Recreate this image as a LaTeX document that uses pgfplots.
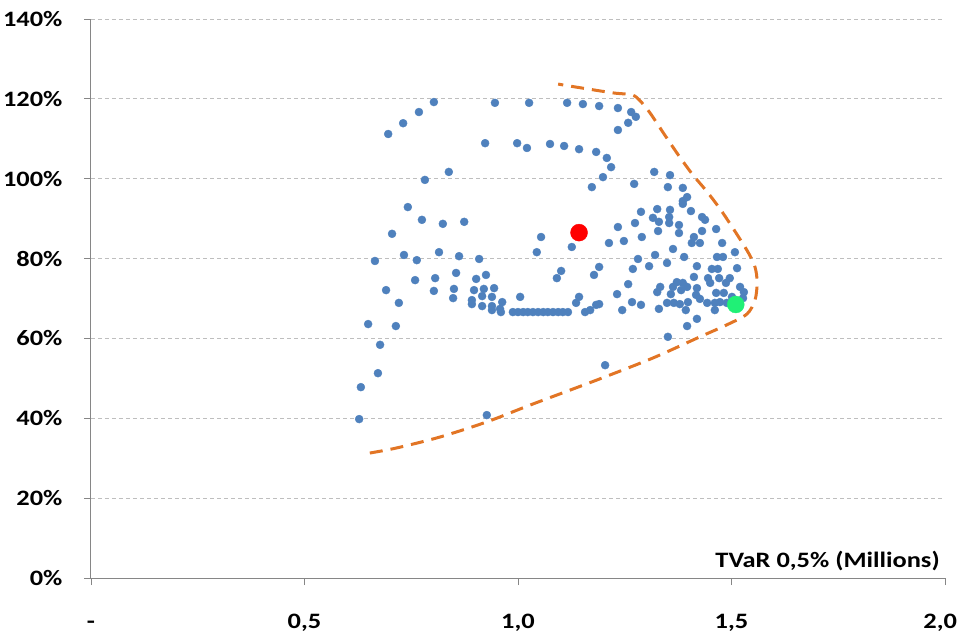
\documentclass[border=0pt]{standalone}
\usepackage{fontspec}
\setmainfont{Carlito}[FakeStretch=1.2]
\usepackage{pgfplots}
\pgfplotsset{compat=1.18}
\definecolor{ptblue}{RGB}{79,129,189}
\definecolor{orangec}{RGB}{226,117,37}
\definecolor{greenc}{RGB}{32,240,118}
\definecolor{axisgray}{RGB}{134,134,134}
\definecolor{gridgray}{RGB}{190,190,190}
\begin{document}
\begin{tikzpicture}
\begin{axis}[
  name=ax,
  scale only axis, width=854pt, height=559pt,
  xmin=0, xmax=2, ymin=0, ymax=140,
  axis lines*=left,
  axis line style={draw=axisgray, line width=1pt},
  xtick={0,0.5,1,1.5,2},
  xticklabels={{-},{0,5},{1,0},{1,5},{\hbox to 0pt{\hss 2,0\hskip -12pt\relax}}},
  ytick={0,20,40,60,80,100,120,140},
  yticklabels={0\%,20\%,40\%,60\%,80\%,100\%,120\%,140\%},
  tick align=outside, major tick length=7pt,
  tick style={draw=axisgray, line width=0.8pt},
  ymajorgrids, major grid style={dash pattern=on 4pt off 3pt, draw=gridgray, line width=0.8pt},
  xticklabel style={yshift=-26pt, text height=14pt, text depth=4pt},
  yticklabel style={xshift=-18pt},
  tick label style={font=\fontsize{22}{26}\selectfont\bfseries},
  xlabel={TVaR 0,5\% (Millions)},
  xlabel style={at={(axis description cs:0.994,0.012)}, anchor=south east, inner sep=0pt, font=\fontsize{22}{26}\selectfont\bfseries},
  clip=false,
]
\addplot[only marks, mark=*, mark size=4pt, color=ptblue, mark options={draw=ptblue, fill=ptblue}] table {
x y
0.696 111.2
0.731 113.9
0.768 116.7
0.803 119.2
0.946 119.0
1.026 119.0
1.115 119.0
1.152 118.7
1.190 118.2
1.234 117.7
1.265 116.7
1.276 115.5
1.258 114.0
1.234 112.2
0.923 108.9
0.998 108.9
1.021 107.7
1.075 108.7
1.108 108.2
1.143 107.4
1.183 106.7
1.208 105.2
1.218 102.9
1.199 100.4
1.173 97.9
0.838 101.7
0.782 99.7
0.742 92.9
0.775 89.7
0.824 88.7
0.874 89.2
0.705 86.2
1.054 85.4
1.044 81.6
1.126 82.9
1.101 76.9
1.091 75.1
1.178 75.9
1.190 77.9
0.733 80.9
0.665 79.4
0.763 79.6
0.815 81.6
0.862 80.6
0.909 79.9
0.691 72.1
0.759 74.6
0.806 75.1
0.855 76.4
0.902 74.9
0.925 75.9
0.721 68.9
0.803 71.9
0.850 72.4
0.848 70.1
0.897 72.1
0.920 72.4
0.944 72.6
0.892 69.6
0.916 70.6
0.939 70.4
0.963 69.1
0.892 68.6
0.916 68.1
0.939 68.1
0.958 67.4
0.939 67.1
0.960 66.6
1.005 70.4
0.649 63.6
0.714 63.1
0.677 58.4
0.672 51.3
0.632 47.8
0.628 39.8
0.927 40.8
1.204 53.3
0.988 66.6
1.000 66.6
1.012 66.6
1.023 66.6
1.035 66.6
1.047 66.6
1.059 66.6
1.070 66.6
1.082 66.6
1.094 66.6
1.105 66.6
1.117 66.6
1.143 70.4
1.136 68.9
1.157 66.6
1.169 67.1
1.183 68.4
1.190 68.6
1.319 101.7
1.356 100.9
1.272 98.7
1.351 97.9
1.386 97.7
1.396 95.4
1.386 94.4
1.386 93.7
1.405 91.9
1.288 91.7
1.326 92.4
1.316 90.2
1.330 89.2
1.356 92.2
1.354 90.4
1.354 88.9
1.377 88.4
1.328 86.9
1.377 86.4
1.274 88.9
1.234 87.9
1.431 90.4
1.438 89.7
1.464 87.4
1.431 86.9
1.290 85.4
1.248 84.4
1.213 83.9
1.412 85.4
1.407 83.9
1.426 83.9
1.478 83.9
1.363 82.4
1.508 81.6
1.321 80.9
1.389 80.4
1.466 80.4
1.480 80.4
1.269 77.4
1.307 78.1
1.349 78.9
1.419 78.1
1.454 77.4
1.468 77.4
1.513 77.6
1.258 73.6
1.232 71.1
1.267 69.1
1.244 67.1
1.288 68.4
1.333 72.9
1.326 71.6
1.330 67.4
1.372 74.1
1.363 72.9
1.358 71.1
1.386 73.9
1.412 75.4
1.396 72.9
1.382 72.1
1.419 72.6
1.417 70.9
1.349 68.9
1.365 68.9
1.379 68.6
1.398 69.1
1.393 67.1
1.426 69.9
1.443 68.9
1.445 75.1
1.450 73.9
1.471 75.1
1.487 73.9
1.496 75.1
1.464 71.4
1.482 71.4
1.520 72.9
1.529 71.6
1.501 70.4
1.461 68.9
1.461 67.1
1.527 70.1
1.396 63.1
1.419 64.9
1.351 60.4
1.489 68.9
1.473 69.1
1.281 79.9
};
\addplot[smooth, tension=0.5, color=orangec, line width=3pt, dash pattern=on 13pt off 8pt] coordinates {
(0.653,31.3) (0.717,32.6) (0.817,35.3) (0.927,39.1) (1.028,43.3) (1.185,49.6)
(1.316,55.1) (1.426,60.4) (1.489,63.4) (1.536,66.1) (1.555,69.6) (1.560,73.9)
(1.555,77.9) (1.536,82.1) (1.480,91.4) (1.443,96.7) (1.410,100.9) (1.379,105.4)
(1.344,110.9) (1.309,116.5) (1.286,119.5) (1.267,121.0) (1.222,121.5) (1.133,123.0) (1.094,123.7)
};
\addplot[only marks, mark=*, mark size=8.5pt, color=red, mark options={draw=red, fill=red}] coordinates {(1.143,86.5)};
\addplot[only marks, mark=*, mark size=8.5pt, color=greenc, mark options={draw=greenc, fill=greenc}] coordinates {(1.510,68.5)};
\end{axis}
\pgfresetboundingbox
\path ([shift={(-91pt,-59pt)}]ax.south west) rectangle ([shift={(15pt,19pt)}]ax.north east);
\end{tikzpicture}
\end{document}
